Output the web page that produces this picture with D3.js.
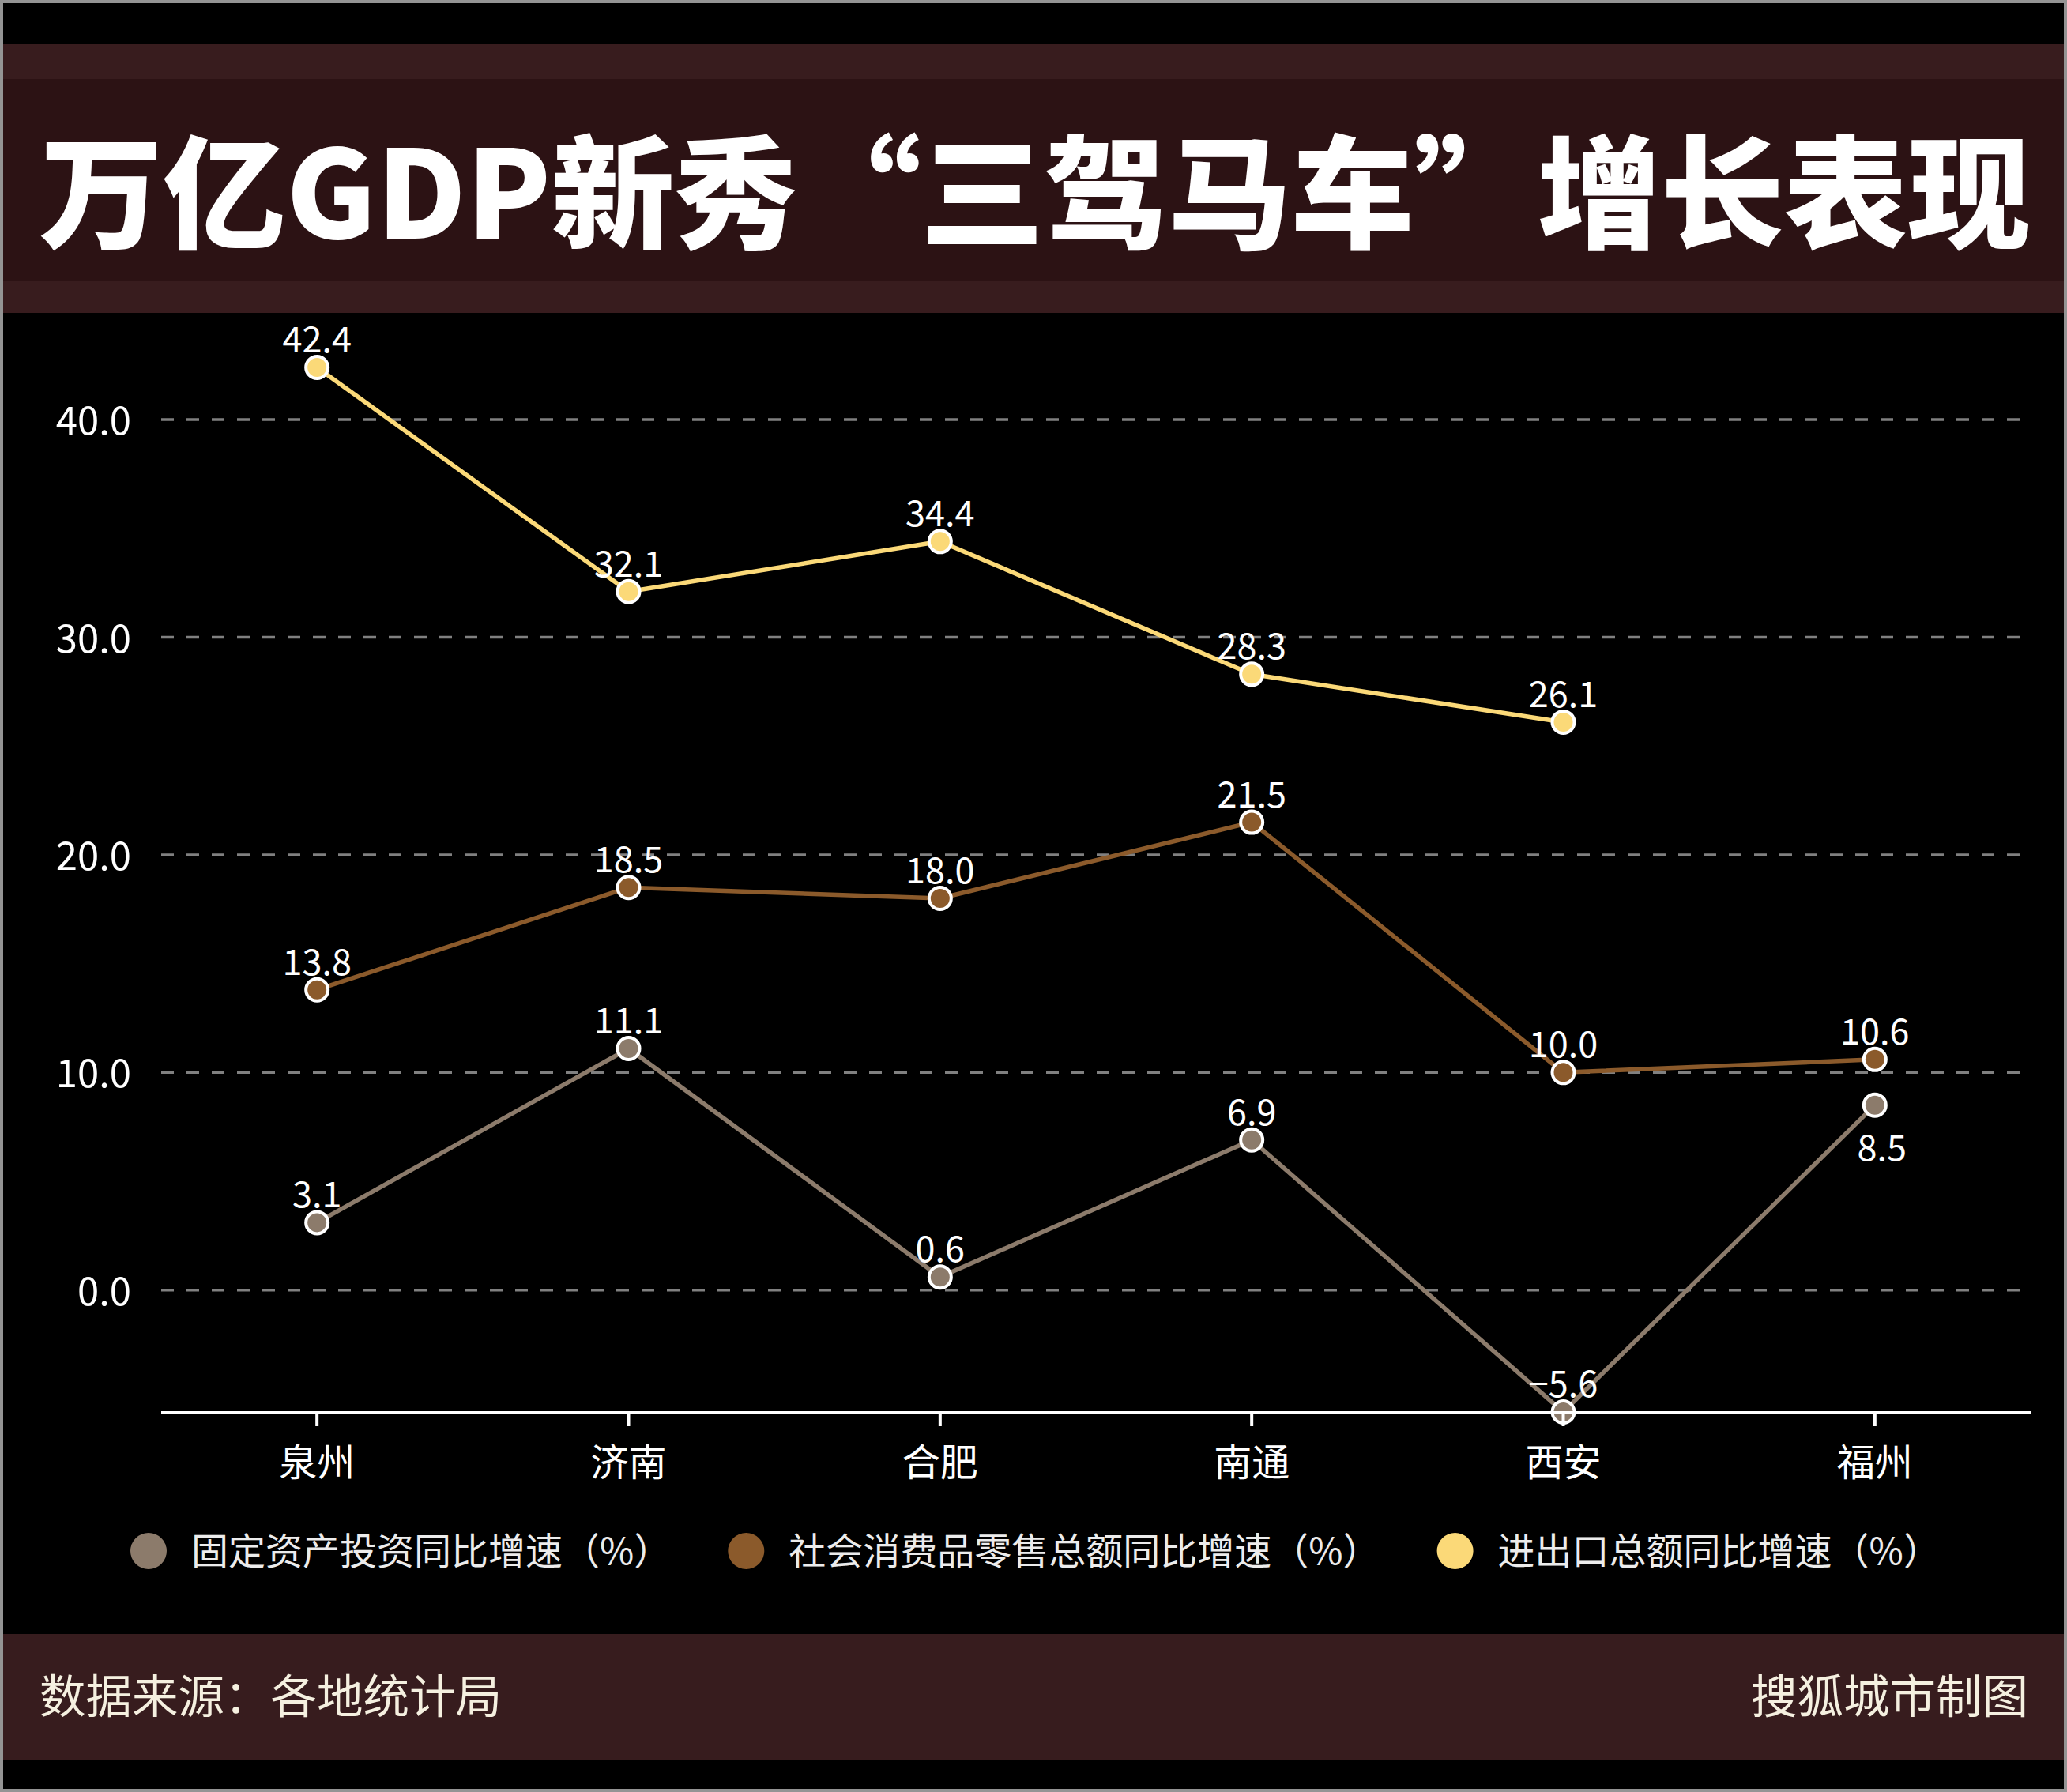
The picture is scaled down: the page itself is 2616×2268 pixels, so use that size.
<!DOCTYPE html>
<html><head><meta charset="utf-8">
<script src="https://cdn.jsdelivr.net/npm/d3@7"></script>
<style>html,body{margin:0;padding:0;background:#000;} svg{display:block;}</style>
</head><body>
<script>
const categories = ["泉州", "济南", "合肥", "南通", "西安", "福州"];
const seriesNames = ["固定资产投资同比增速（%）", "社会消费品零售总额同比增速（%）", "进出口总额同比增速（%）"];
const fixedInvestment = [3.1, 11.1, 0.6, 6.9, -5.6, 8.5];
const retailSales = [13.8, 18.5, 18.0, 21.5, 10.0, 10.6];
const foreignTrade = [42.4, 32.1, 34.4, 28.3, 26.1, null];
const yTicks = [0, 10, 20, 30, 40];
const seriesColors = ["#8c7b6b", "#8b5a2b", "#fbd978"];
const titleText = "万亿GDP新秀“三驾马车”增长表现";
const sourceText = "数据来源：各地统计局";
const creditText = "搜狐城市制图";

const W = 2616, H = 2268;
const FONT = "'Noto Sans CJK SC','Noto Sans',sans-serif";
const svg = d3.select("body").append("svg").attr("width", W).attr("height", H)
  .style("font-family", FONT);

// background & frame
svg.append("rect").attr("width", W).attr("height", H).attr("fill", "#000");
// header bands
svg.append("rect").attr("x", 0).attr("y", 56).attr("width", W).attr("height", 340).attr("fill", "#381c1e");
svg.append("rect").attr("x", 0).attr("y", 100).attr("width", W).attr("height", 256).attr("fill", "#2c1214");
// footer band
svg.append("rect").attr("x", 0).attr("y", 2068).attr("width", W).attr("height", 159).attr("fill", "#371c1e");
// outer frame
svg.append("rect").attr("x", 2).attr("y", 2).attr("width", W - 4).attr("height", H - 4)
  .attr("fill", "none").attr("stroke", "#949494").attr("stroke-width", 4);

// title
svg.append("text").attr("x", 50).attr("y", 302)
  .attr("textLength", 2520).attr("lengthAdjust", "spacingAndGlyphs")
  .attr("font-size", 155).attr("font-weight", 900).attr("fill", "#fff")
  .text(titleText);

// scales
const x = d3.scalePoint().domain(categories).range([204, 2570]).padding(0.5);
const y = d3.scaleLinear().domain([-5.6, 42.4]).range([1787, 465]);

// gridlines
const grid = svg.append("g");
grid.selectAll("line").data(yTicks).join("line")
  .attr("x1", 204).attr("x2", 2560)
  .attr("y1", d => y(d)).attr("y2", d => y(d))
  .attr("stroke", "#808080").attr("stroke-width", 3.5)
  .attr("stroke-dasharray", "16,16");

// y tick labels
svg.append("g").selectAll("text").data(yTicks).join("text")
  .attr("x", 166).attr("y", d => y(d) + 19)
  .attr("text-anchor", "end").attr("font-size", 49).attr("fill", "#fff")
  .text(d => d3.format(".1f")(d));

// series
const series = [fixedInvestment, retailSales, foreignTrade].map((vals, i) => ({
  name: seriesNames[i], color: seriesColors[i],
  points: vals.map((v, j) => ({ cat: categories[j], v })).filter(p => p.v !== null)
}));

const line = d3.line().x(p => x(p.cat)).y(p => y(p.v));
const gs = svg.append("g");
series.forEach(s => {
  gs.append("path").datum(s.points).attr("d", line)
    .attr("fill", "none").attr("stroke", s.color).attr("stroke-width", 5.5)
    .attr("stroke-linejoin", "round");
});
series.forEach(s => {
  gs.append("g").selectAll("circle").data(s.points).join("circle")
    .attr("cx", p => x(p.cat)).attr("cy", p => y(p.v)).attr("r", 14)
    .attr("fill", s.color).attr("stroke", "#fff").attr("stroke-width", 4);
});

// x axis
const xAxisG = svg.append("g").attr("transform", `translate(0,${1788})`);
xAxisG.append("line").attr("x1", 204).attr("x2", 2570).attr("stroke", "#fff").attr("stroke-width", 4);
xAxisG.selectAll("line.tick").data(categories).join("line").attr("class", "tick")
  .attr("x1", d => x(d)).attr("x2", d => x(d)).attr("y1", 0).attr("y2", 17)
  .attr("stroke", "#fff").attr("stroke-width", 4);
xAxisG.selectAll("text").data(categories).join("text")
  .attr("x", d => x(d)).attr("y", 80).attr("text-anchor", "middle")
  .attr("font-size", 48).attr("fill", "#fff").text(d => d);

// data labels
series.forEach((s, i) => {
  svg.append("g").selectAll("text").data(s.points).join("text")
    .attr("x", p => x(p.cat) + ((i === 0 && p.cat === "福州") ? 9 : 0))
    .attr("y", p => (i === 0 && p.cat === "福州") ? y(p.v) + 70 : y(p.v) - 19)
    .attr("text-anchor", "middle").attr("font-size", 45).attr("fill", "#fff")
    .text(p => d3.format(".1f")(p.v));
});

// legend
const lg = svg.append("g");
let lx = 165;
series.forEach(s => {
  lg.append("circle").attr("cx", lx + 23).attr("cy", 1963).attr("r", 23).attr("fill", s.color);
  const t = lg.append("text").attr("x", lx + 77).attr("y", 1980)
    .attr("font-size", 47).attr("fill", "#ececec").text(s.name);
  lx = lx + 77 + t.node().getComputedTextLength() + 72;
});

// footer
svg.append("text").attr("x", 50).attr("y", 2168).attr("font-size", 58.5).attr("fill", "#f5f0e0").text(sourceText);
svg.append("text").attr("x", 2567).attr("y", 2168).attr("text-anchor", "end").attr("font-size", 58.5).attr("fill", "#f5f0e0").text(creditText);
</script>
</body></html>
